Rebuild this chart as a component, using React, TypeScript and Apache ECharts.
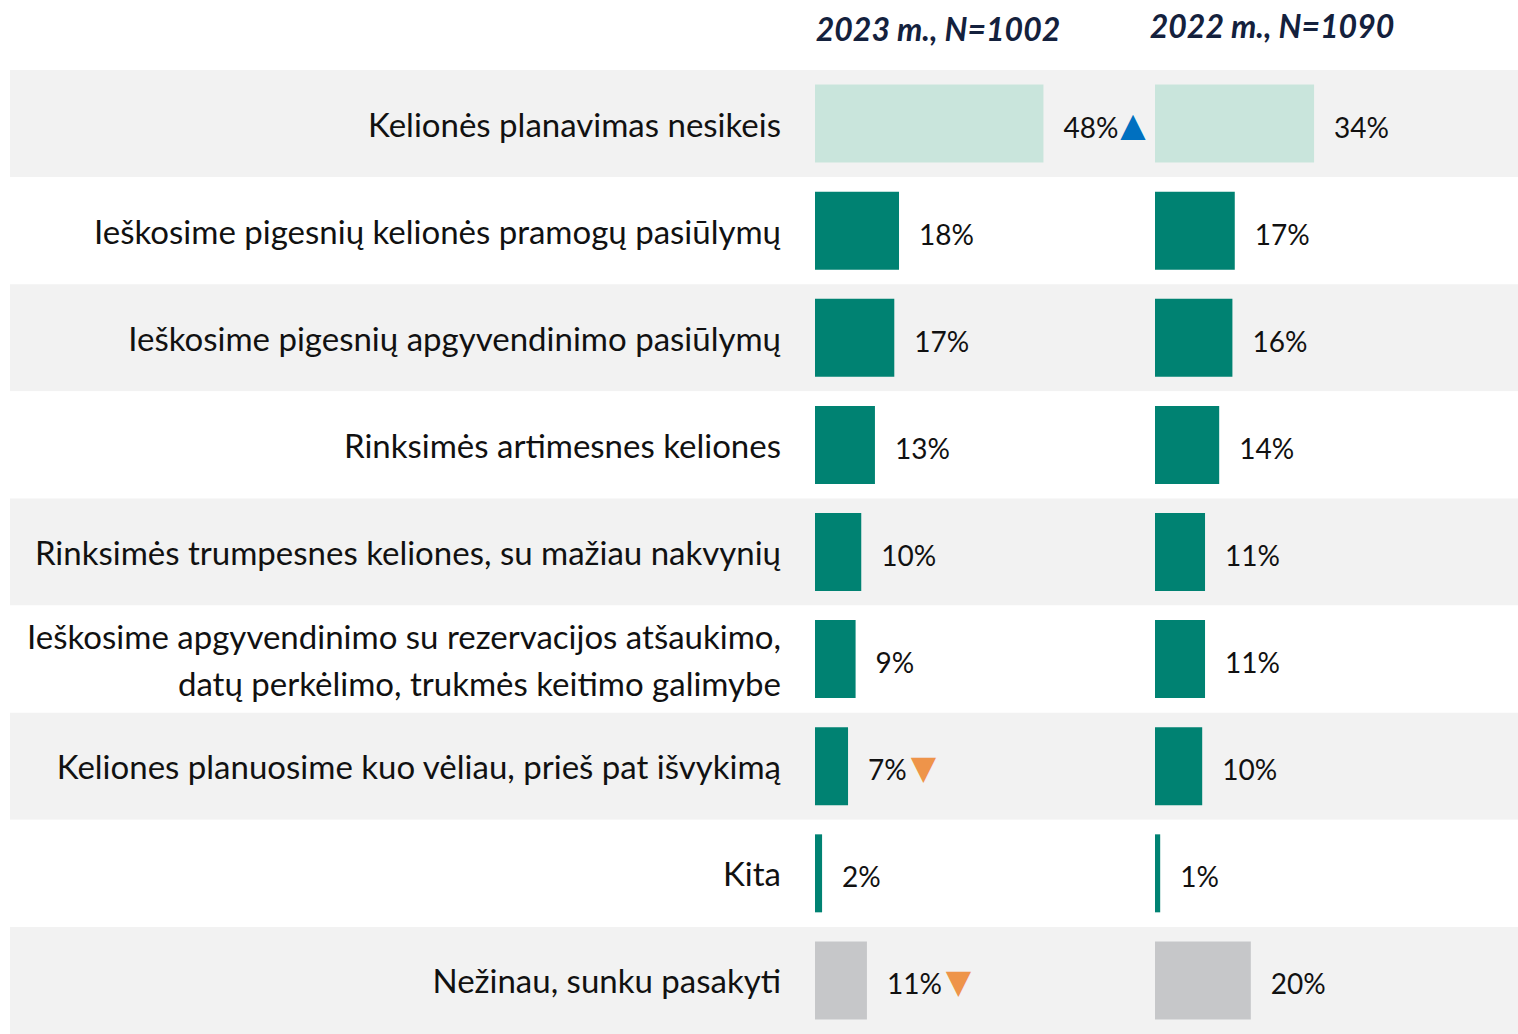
import React, { useEffect, useRef } from 'react';
import * as echarts from 'echarts';

const categories = [
  'Kelionės planavimas nesikeis',
  'Ieškosime pigesnių kelionės pramogų pasiūlymų',
  'Ieškosime pigesnių apgyvendinimo pasiūlymų',
  'Rinksimės artimesnes keliones',
  'Rinksimės trumpesnes keliones, su mažiau nakvynių',
  'Ieškosime apgyvendinimo su rezervacijos atšaukimo,\ndatų perkėlimo, trukmės keitimo galimybe',
  'Keliones planuosime kuo vėliau, prieš pat išvykimą',
  'Kita',
  'Nežinau, sunku pasakyti',
];
const values2023 = [48.4, 17.8, 16.8, 12.7, 9.8, 8.6, 7.0, 1.5, 11.0];
const values2022 = [33.7, 16.9, 16.4, 13.6, 10.6, 10.6, 10.0, 1.1, 20.3];
const markers2023 = ['up', '', '', '', '', '', 'down', '', 'down'];
const markers2022 = ['', '', '', '', '', '', '', '', ''];
const headers = ['2023 m., N=1002', '2022 m., N=1090'];

const FONT = 'Lato, "Open Sans", sans-serif';
const barColor = (i: number) => (i === 0 ? '#c9e5dc' : i === categories.length - 1 ? '#c6c7c9' : '#008272');

function makeSeries(values: number[], markers: string[], idx: number) {
  return {
    type: 'bar',
    xAxisIndex: idx,
    yAxisIndex: idx,
    data: values,
    barWidth: 78,
    itemStyle: { color: (p: any) => barColor(p.dataIndex) },
    label: {
      show: true,
      position: 'right',
      distance: 20,
      offset: [0, 3],
      formatter: (p: any) => {
        const t = Math.round(p.value) + '%';
        const m = markers[p.dataIndex];
        if (m === 'up') return `{v|${t}}{up|▲}`;
        if (m === 'down') return `{v|${t}}{dn|▼}`;
        return `{v|${t}}`;
      },
      rich: {
        v: { fontFamily: FONT, fontSize: 28, color: '#111111' },
        up: { fontFamily: 'DejaVu Sans', fontSize: 33, color: '#0070c0', padding: [0, 0, 4, 2] },
        dn: { fontFamily: 'DejaVu Sans', fontSize: 33, color: '#ee944a', padding: [0, 0, 4, 4] },
      },
    },
  };
}

export default function App() {
  const ref = useRef<HTMLDivElement>(null);
  useEffect(() => {
    document.body.style.margin = '0';
    const chart = echarts.init(ref.current!, null, { renderer: 'svg' });
    const top = 70;
    const height = 968;
    chart.setOption({
      animation: false,
      backgroundColor: '#ffffff',
      grid: [
        { left: 10, right: 0, top, height },
        { left: 815, width: 236, top, height },
        { left: 1155, width: 236, top, height },
      ],
      xAxis: [0, 1, 2].map((i) => ({
        type: 'value',
        gridIndex: i,
        min: 0,
        max: 50,
        show: false,
      })),
      yAxis: [
        {
          type: 'category',
          gridIndex: 0,
          data: categories,
          inverse: true,
          axisLine: { show: false },
          axisTick: { show: false },
          axisLabel: { show: false },
          splitLine: { show: false },
          splitArea: { show: true, areaStyle: { color: ['#f2f2f2', '#ffffff'] } },
        },
        {
          type: 'category',
          gridIndex: 1,
          data: categories,
          inverse: true,
          axisLine: { show: false },
          axisTick: { show: false },
          axisLabel: {
            margin: 34,
            fontFamily: FONT,
            fontSize: 33,
            lineHeight: 47,
            color: '#111111',
            align: 'right',
            padding: [5, 0, 0, 0],
          },
        },
        {
          type: 'category',
          gridIndex: 2,
          data: categories,
          inverse: true,
          axisLine: { show: false },
          axisTick: { show: false },
          axisLabel: { show: false },
        },
      ],
      series: [makeSeries(values2023, markers2023, 1), makeSeries(values2022, markers2022, 2)],
      graphic: [
        {
          type: 'text',
          x: 938,
          y: 28,
          style: {
            text: headers[0],
            textAlign: 'center',
            textVerticalAlign: 'middle',
            fontFamily: FONT,
            fontSize: 32,
            fontWeight: 'bold',
            fontStyle: 'italic',
            fill: '#14213d',
          },
        },
        {
          type: 'text',
          x: 1272,
          y: 25,
          style: {
            text: headers[1],
            textAlign: 'center',
            textVerticalAlign: 'middle',
            fontFamily: FONT,
            fontSize: 32,
            fontWeight: 'bold',
            fontStyle: 'italic',
            fill: '#14213d',
          },
        },
      ],
    });
    return () => chart.dispose();
  }, []);
  return <div ref={ref} style={{ width: 1518, height: 1034 }} />;
}
